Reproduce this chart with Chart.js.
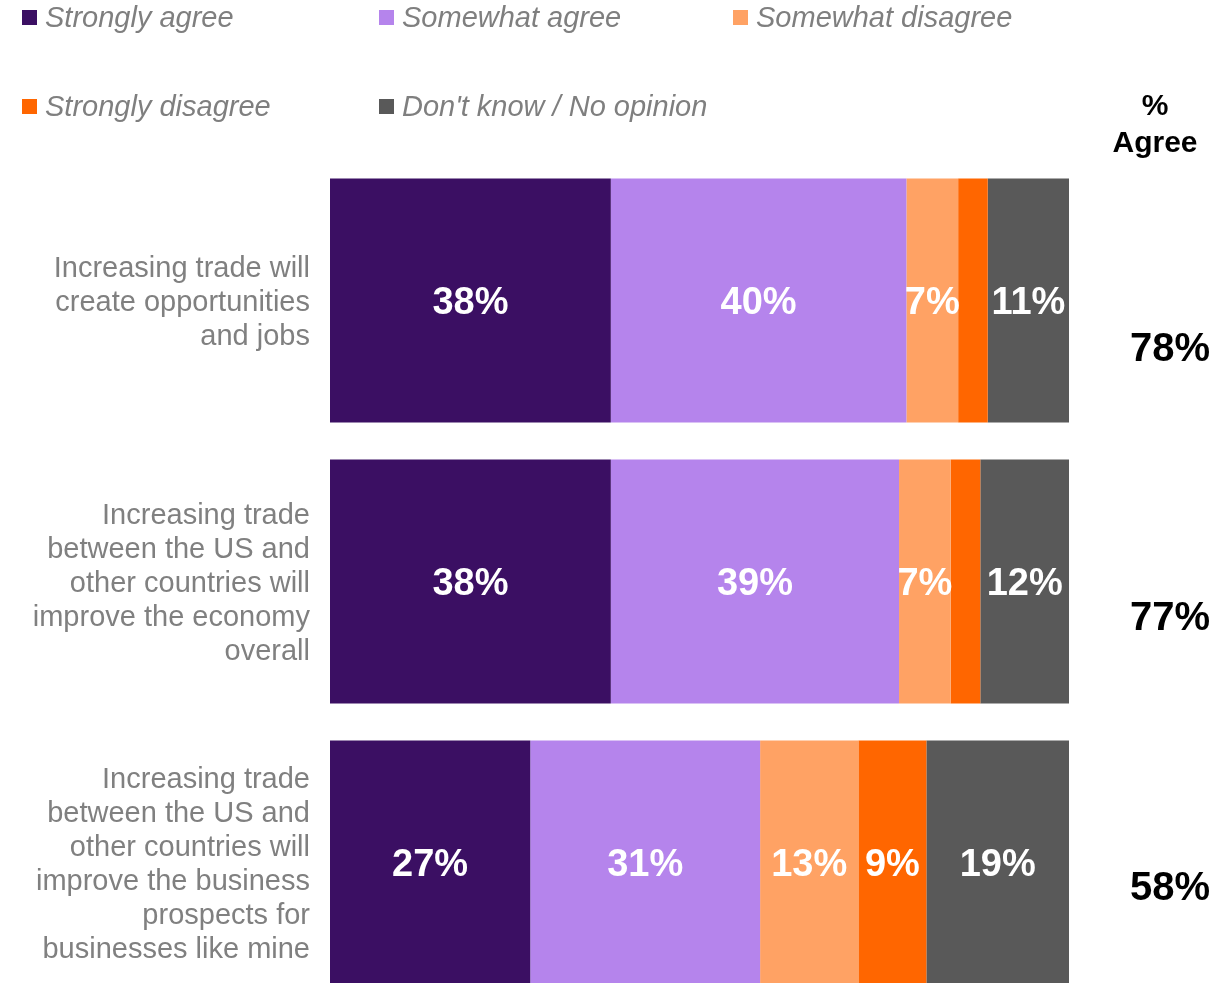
<!DOCTYPE html>
<html>
<head>
<meta charset="utf-8">
<script src="https://cdn.jsdelivr.net/npm/chart.js@4/dist/chart.umd.min.js"></script>
<style>
  html, body { margin: 0; padding: 0; background: #fff; overflow: hidden; }
  body { width: 1229px; height: 983px; position: relative; font-family: "Liberation Sans", Arial, sans-serif; }
  #chart { position: absolute; left: 0; top: 0; }
  .legend-item { position: absolute; height: 34px; line-height: 34px; font-size: 29px; font-style: italic; color: #7f7f7f; white-space: nowrap; }
  .legend-item .sw { position: absolute; left: 0; top: 10px; width: 15px; height: 15px; }
  .legend-item .tx { position: absolute; left: 23px; top: 0; }
  #agreeHead { position: absolute; left: 1095px; width: 120px; top: 86px; text-align: center; font-weight: bold; font-size: 30px; line-height: 37px; color: #000; }
</style>
</head>
<body>
<canvas id="chart" width="1229" height="1003"></canvas>
<div id="legend"></div>
<div id="agreeHead">%<br>Agree</div>
<script>
// Survey statements (one row each)
const statements = [
  ["Increasing trade will", "create opportunities", "and jobs"],
  ["Increasing trade", "between the US and", "other countries will", "improve the economy", "overall"],
  ["Increasing trade", "between the US and", "other countries will", "improve the business", "prospects for", "businesses like mine"]
];

// Response shares (%) per statement
const stronglyAgree    = [38, 38, 27.1];
const somewhatAgree    = [40, 39, 31.1];
const somewhatDisagree = [7, 7, 13.3];
const stronglyDisagree = [4, 4, 9.2];
const dontKnow         = [11, 12, 19.3];

const seriesNames  = ["Strongly agree", "Somewhat agree", "Somewhat disagree", "Strongly disagree", "Don't know / No opinion"];
const seriesColors = ["#3b0f63", "#b584ec", "#ffa264", "#ff6600", "#595959"];
const seriesValues = [stronglyAgree, somewhatAgree, somewhatDisagree, stronglyDisagree, dontKnow];

// Legend laid out in two rows of fixed columns
const legendSlots = [[22, 0], [379, 0], [733, 0], [22, 89], [379, 89]];
const legendEl = document.getElementById('legend');
seriesNames.forEach((name, i) => {
  const item = document.createElement('div');
  item.className = 'legend-item';
  item.style.left = legendSlots[i][0] + 'px';
  item.style.top = legendSlots[i][1] + 'px';
  item.innerHTML = '<span class="sw" style="background:' + seriesColors[i] + '"></span><span class="tx"></span>';
  item.querySelector('.tx').textContent = name;
  legendEl.appendChild(item);
});

const FONT = '"Liberation Sans", Arial, sans-serif';

// Percentage labels inside each segment, and the combined "agree" share on the right
const segmentLabels = {
  id: 'segmentLabels',
  afterDatasetsDraw(chart, args, opts) {
    const ctx = chart.ctx;
    ctx.save();
    ctx.textAlign = 'center';
    ctx.textBaseline = 'middle';
    ctx.fillStyle = '#ffffff';
    ctx.font = 'bold 38px ' + FONT;
    chart.data.datasets.forEach((ds, di) => {
      chart.getDatasetMeta(di).data.forEach((bar, i) => {
        const v = ds.data[i];
        if (v < 5) return;
        ctx.fillText(Math.round(v) + '%', (bar.base + bar.x) / 2, bar.y + 3);
      });
    });
    ctx.fillStyle = '#000000';
    ctx.font = 'bold 40px ' + FONT;
    const meta = chart.getDatasetMeta(0);
    statements.forEach((s, i) => {
      const agree = Math.round(stronglyAgree[i] + somewhatAgree[i]);
      ctx.fillText(agree + '%', opts.x, meta.data[i].y + opts.nudge[i]);
    });
    ctx.restore();
  }
};

new Chart(document.getElementById('chart'), {
  type: 'bar',
  data: {
    labels: statements,
    datasets: seriesNames.map((name, i) => ({
      label: name,
      data: seriesValues[i],
      backgroundColor: seriesColors[i],
      borderWidth: 0,
      barPercentage: 0.869,
      categoryPercentage: 1
    }))
  },
  options: {
    indexAxis: 'y',
    responsive: false,
    animation: false,
    devicePixelRatio: 1,
    layout: { padding: { top: 160, right: 160, bottom: 0, left: 0 } },
    plugins: {
      legend: { display: false },
      tooltip: { enabled: false },
      segmentLabels: { x: 1170, nudge: [49, 37, 26] }
    },
    scales: {
      x: { stacked: true, min: 0, max: 100, display: false },
      y: {
        stacked: true,
        grid: { display: false, drawTicks: false },
        border: { display: false },
        ticks: {
          padding: 20,
          labelOffset: 2,
          color: '#808080',
          font: { family: FONT, size: 29, lineHeight: 34 / 29 }
        },
        afterFit(scale) {
          scale.width = 330;
          // the tall multi-line labels must not shrink the bar area
          scale.paddingTop = 0;
          scale.paddingBottom = 0;
        }
      }
    }
  },
  plugins: [segmentLabels]
});
</script>
</body>
</html>
